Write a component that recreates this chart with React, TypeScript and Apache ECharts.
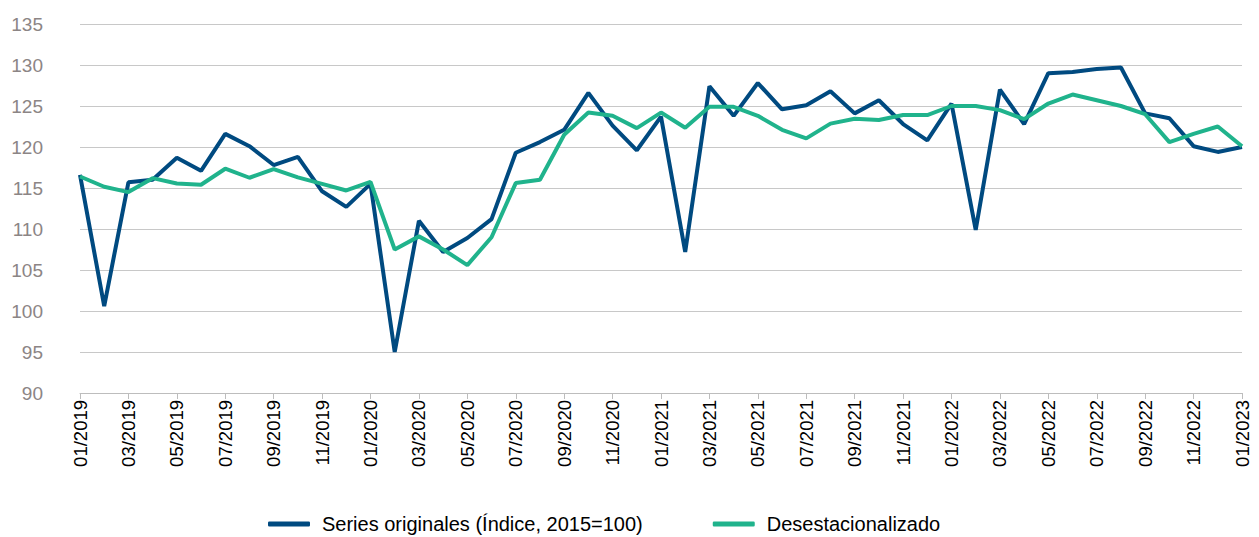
import React, { useEffect, useRef } from "react";
import * as echarts from "echarts";

const months: string[] = [
  "01/2019", "02/2019", "03/2019", "04/2019", "05/2019", "06/2019", "07/2019", "08/2019", "09/2019", "10/2019", "11/2019", "12/2019",
  "01/2020", "02/2020", "03/2020", "04/2020", "05/2020", "06/2020", "07/2020", "08/2020", "09/2020", "10/2020", "11/2020", "12/2020",
  "01/2021", "02/2021", "03/2021", "04/2021", "05/2021", "06/2021", "07/2021", "08/2021", "09/2021", "10/2021", "11/2021", "12/2021",
  "01/2022", "02/2022", "03/2022", "04/2022", "05/2022", "06/2022", "07/2022", "08/2022", "09/2022", "10/2022", "11/2022", "12/2022",
  "01/2023",
];

const originales: number[] = [
  116.6, 100.6, 115.7, 116.0, 118.7, 117.1, 121.6, 120.1, 117.8, 118.8, 114.6, 112.7,
  115.5, 95.0, 111.0, 107.2, 108.9, 111.2, 119.3, 120.6, 122.1, 126.6, 122.6, 119.6,
  123.7, 107.2, 127.4, 123.8, 127.8, 124.6, 125.1, 126.8, 124.1, 125.7, 122.8, 120.8,
  125.3, 109.9, 127.0, 122.8, 129.0, 129.15, 129.5, 129.7, 124.1, 123.5, 120.1, 119.4,
  120.0,
];

const desestacionalizado: number[] = [
  116.4, 115.15, 114.5, 116.2, 115.55, 115.4, 117.35, 116.25, 117.3, 116.3, 115.5, 114.7,
  115.75, 107.5, 109.1, 107.5, 105.6, 109.0, 115.6, 116.0, 121.5, 124.2, 123.8, 122.3,
  124.2, 122.35, 124.9, 124.9, 123.8, 122.1, 121.05, 122.85, 123.45, 123.3, 123.9, 123.9,
  125.0, 125.0, 124.5, 123.4, 125.3, 126.4, 125.7, 125.0, 124.0, 120.6, 121.6, 122.5,
  120.1,
];

const seriesNames: string[] = ["Series originales (Índice, 2015=100)", "Desestacionalizado"];
const FONT = "'Liberation Sans', Arial, Helvetica, sans-serif";

export default function App() {
  const ref = useRef<HTMLDivElement>(null);
  useEffect(() => {
    if (!ref.current) return;
    const chart = echarts.init(ref.current, undefined, { renderer: "svg" });
    chart.setOption({
      animation: false,
      backgroundColor: "#ffffff",
      textStyle: { fontFamily: FONT },
      grid: { left: 80, right: 17, top: 24, bottom: 144, containLabel: false },
      legend: {
        top: 509,
        left: 263,
        itemWidth: 42,
        itemHeight: 5,
        itemGap: 70,
        icon: "roundRect",
        textStyle: { fontSize: 20, color: "#000000", fontFamily: FONT, padding: [0, 0, 0, 7] },
        data: seriesNames,
      },
      xAxis: {
        type: "category",
        data: months,
        boundaryGap: false,
        axisLine: { show: true, lineStyle: { color: "#bdbdbd", width: 1 } },
        axisTick: { show: true, interval: 1, length: 6, lineStyle: { color: "#bdbdbd" } },
        axisLabel: {
          interval: 1,
          rotate: 90,
          margin: 7,
          fontSize: 18.5,
          color: "#000000",
          fontFamily: FONT,
        },
        splitLine: { show: false },
      },
      yAxis: {
        type: "value",
        min: 90,
        max: 135,
        interval: 5,
        axisLine: { show: false },
        axisTick: { show: false },
        axisLabel: { fontSize: 19, color: "#8c8585", margin: 37, fontFamily: FONT },
        splitLine: { lineStyle: { color: "#c8c8c8", width: 1 } },
      },
      series: [
        {
          name: seriesNames[0],
          type: "line",
          data: originales,
          symbol: "none",
          lineStyle: { color: "#004a80", width: 4 },
          itemStyle: { color: "#004a80" },
          z: 2,
        },
        {
          name: seriesNames[1],
          type: "line",
          data: desestacionalizado,
          symbol: "none",
          lineStyle: { color: "#20b38c", width: 4 },
          itemStyle: { color: "#20b38c" },
          z: 3,
        },
      ],
    });
    return () => chart.dispose();
  }, []);
  return (
    <div
      ref={ref}
      style={{ position: "absolute", left: 0, top: 0, width: 1259, height: 537 }}
    />
  );
}
